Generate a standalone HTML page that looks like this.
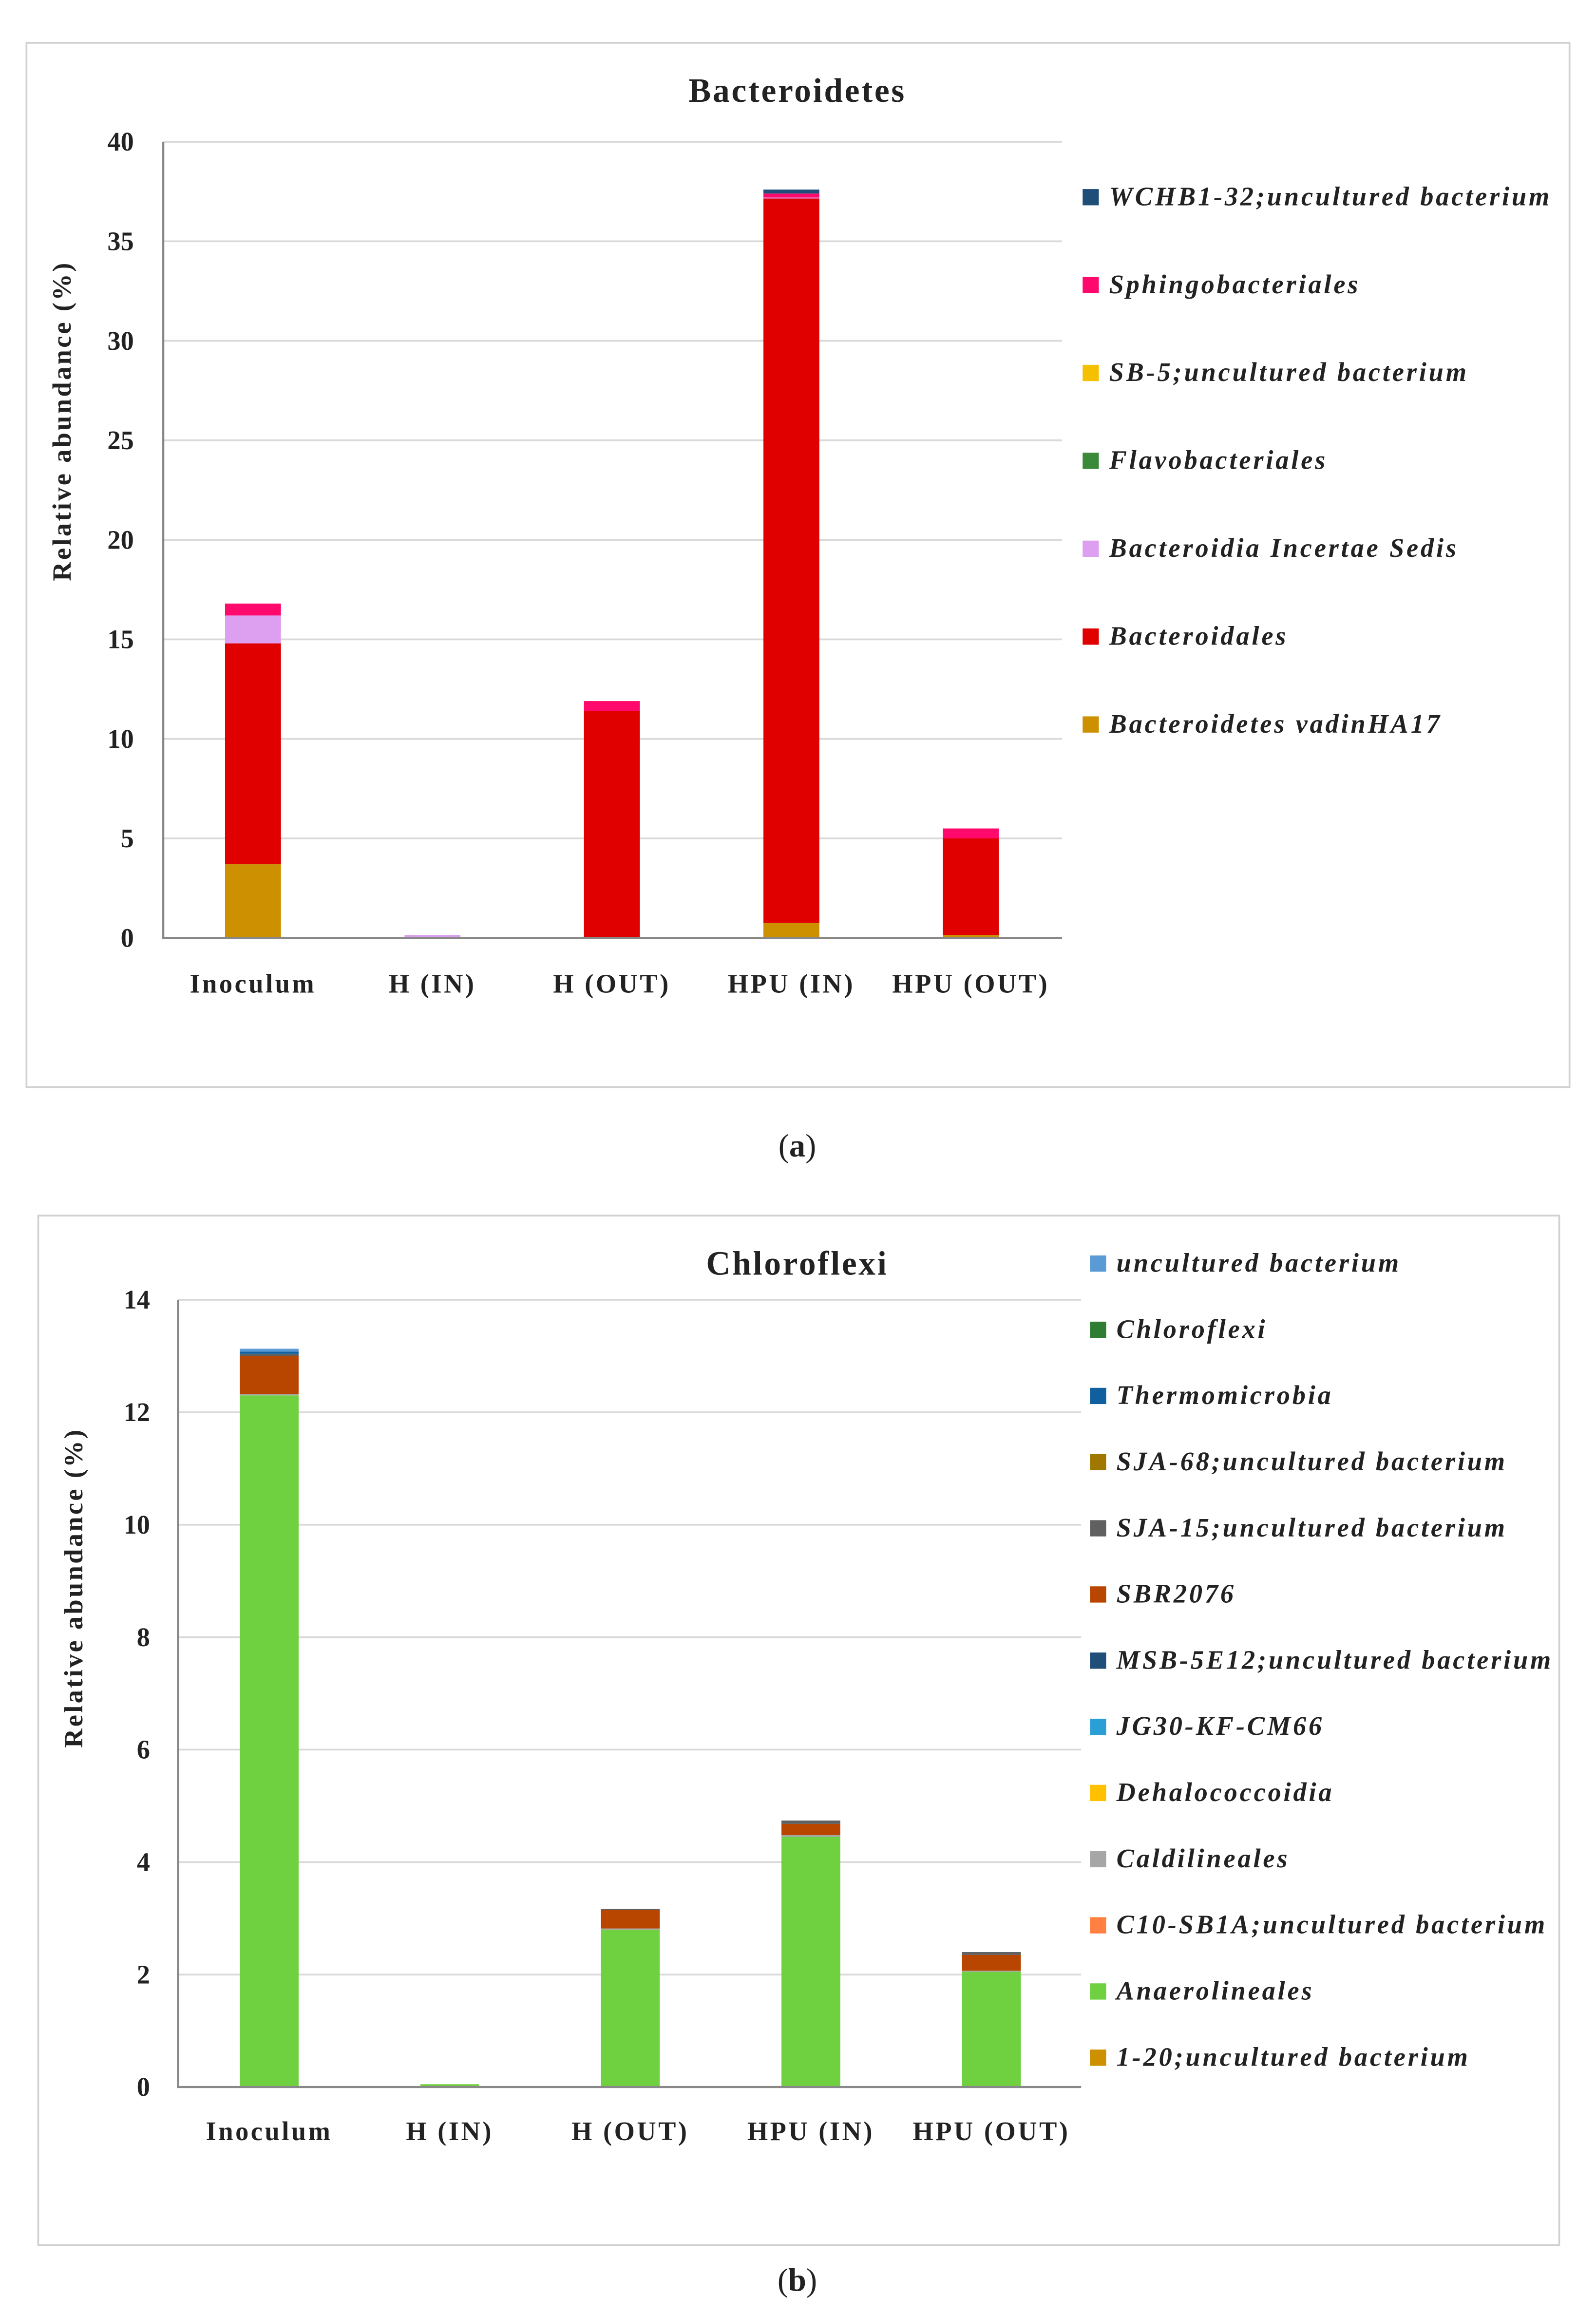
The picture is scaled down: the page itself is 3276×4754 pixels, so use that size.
<!DOCTYPE html>
<html><head><meta charset="utf-8"><style>
html,body{margin:0;padding:0;background:#fff}
svg{display:block}
text{font-family:"Liberation Serif",serif;fill:#222}
</style></head><body>
<svg id="root" width="3276" height="4754" viewBox="0 0 1085 1568" preserveAspectRatio="none" xmlns="http://www.w3.org/2000/svg">
<rect x="18" y="29" width="1049" height="707" fill="#fff" stroke="#d0d0d0" stroke-width="1.2"/>
<rect x="26" y="823" width="1034" height="697" fill="#fff" stroke="#d0d0d0" stroke-width="1.2"/>
<g id="ga"></g>
<g id="gb"></g>
<text x="542" y="783" text-anchor="middle" font-size="22">(<tspan font-weight="bold">a</tspan>)</text>
<text x="542" y="1551" text-anchor="middle" font-size="22">(<tspan font-weight="bold">b</tspan>)</text>
</svg>
<script>
const categories = ["Inoculum","H (IN)","H (OUT)","HPU (IN)","HPU (OUT)"];
// Chart A
const aSeries = ["Bacteroidetes vadinHA17","Bacteroidales","Bacteroidia Incertae Sedis","Flavobacteriales","SB-5;uncultured bacterium","Sphingobacteriales","WCHB1-32;uncultured bacterium"];
const aColors = ["#cc9000","#e00000","#dd9ff0","#3a8a3a","#f5c000","#ff0a6c","#1f4e79"];
const aVadin = [3.7,0,0,0.75,0.15];
const aBacteroidales = [11.1,0,11.4,36.4,4.85];
const aIncertae = [1.4,0.15,0,0.05,0];
const aFlavo = [0,0,0,0,0];
const aSB5 = [0,0,0,0,0];
const aSphingo = [0.6,0,0.5,0.2,0.5];
const aWCHB = [0,0,0,0.2,0];
const aTicks = [0,5,10,15,20,25,30,35,40];
// Chart B
const bSeries = ["1-20;uncultured bacterium","Anaerolineales","C10-SB1A;uncultured bacterium","Caldilineales","Dehalococcoidia","JG30-KF-CM66","MSB-5E12;uncultured bacterium","SBR2076","SJA-15;uncultured bacterium","SJA-68;uncultured bacterium","Thermomicrobia","Chloroflexi","uncultured bacterium"];
const bColors = ["#cc9000","#6fd040","#ff8040","#a6a6a6","#ffc000","#2a9fd6","#1f4e79","#b84600","#606060","#a07800","#1060a0","#2e7d32","#5b9bd5"];
const b120 = [0,0,0,0,0];
const bAnaero = [12.3,0.05,2.8,4.45,2.05];
const bC10 = [0,0,0,0,0];
const bCaldi = [0.02,0,0.02,0.03,0.02];
const bDehalo = [0,0,0,0,0];
const bJG30 = [0,0,0,0,0];
const bMSB = [0,0,0,0,0];
const bSBR = [0.68,0,0.33,0.2,0.28];
const bSJA15 = [0.04,0,0.02,0.06,0.05];
const bSJA68 = [0,0,0,0,0];
const bThermo = [0.04,0,0,0,0];
const bChloro = [0,0,0,0,0];
const bUncult = [0.05,0,0,0,0];
const bTicks = [0,2,4,6,8,10,12,14];

const NS="http://www.w3.org/2000/svg";
function mk(parent,tag,attrs,txt){const e=document.createElementNS(NS,tag);for(const k in attrs)e.setAttribute(k,attrs[k]);if(txt!==undefined)e.textContent=txt;parent.appendChild(e);return e;}

function drawChart(g,cfg){
  const {x0,x1,y0,y1,max,ticks,centers,bw,series,colors,data,title,titleX,titleY,legend,ylabelX,ylabelY,catY,tickX} = cfg;
  const ys=v=>y0-(v/max)*(y0-y1);
  const xs=i=>centers[0]+i*(centers[1]-centers[0]);
  ticks.forEach(t=>{
    if(t>0){const l=mk(g,'line',{x1:x0,x2:x1,y1:ys(t),y2:ys(t),stroke:'#d9d9d9','stroke-width':1.2});
    
    }
    const tx=mk(g,'text',{x:tickX,y:ys(t)+6,'text-anchor':'end','font-size':18,'font-weight':'bold'},t);
    
    
  });
  categories.forEach((c,i)=>{
    let acc=0;
    data.forEach((arr,s)=>{
      const v=arr[i]; if(!v) return;
      const r=mk(g,'rect',{x:xs(i)-bw/2,y:ys(acc+v),width:bw,height:ys(acc)-ys(acc+v),fill:colors[s]});
      
      
      acc+=v;
    });
    const ct=mk(g,'text',{x:xs(i),y:catY,'text-anchor':'middle','font-size':18,'font-weight':'bold','letter-spacing':1.5},c);
    
    
  });
  const ax=mk(g,'polyline',{points:`${x0},${y1} ${x0},${y0} ${x1},${y0}`,fill:'none',stroke:'#888','stroke-width':1.4});
  
  
  const tt=mk(g,'text',{x:titleX,y:titleY,'text-anchor':'middle','font-size':23,'font-weight':'bold','letter-spacing':1.2},title);
  
  
  const yl=mk(g,'text',{x:0,y:0,'text-anchor':'middle','font-size':18,'font-weight':'bold','letter-spacing':1.4,transform:`translate(${ylabelX},${ylabelY}) rotate(-90)`},'Relative abundance (%)');
  
  
  const n=series.length;
  for(let k=0;k<n;k++){
    const s=n-1-k; const y=legend.y+k*legend.dy;
    const sw=mk(g,'rect',{x:legend.x,y:y-11,width:11,height:11,fill:colors[s]});
    
    
    const lt=mk(g,'text',{x:legend.x+18,y:y,'font-size':18,'font-weight':'bold','font-style':'italic','letter-spacing':1.6},series[s]);
    
    
  }
}
drawChart(document.getElementById('ga'),{x0:111,x1:722,y0:635,y1:96,max:40,ticks:aTicks,centers:[172,294],bw:38,
  series:aSeries,colors:aColors,data:[aVadin,aBacteroidales,aIncertae,aFlavo,aSB5,aSphingo,aWCHB],
  title:'Bacteroidetes',titleX:542,titleY:69,legend:{x:736,y:139,dy:59.5},ylabelX:48,ylabelY:285,catY:672,tickX:91});
drawChart(document.getElementById('gb'),{x0:121,x1:735,y0:1413,y1:880,max:14,ticks:bTicks,centers:[183,305.75],bw:40,
  series:bSeries,colors:bColors,data:[b120,bAnaero,bC10,bCaldi,bDehalo,bJG30,bMSB,bSBR,bSJA15,bSJA68,bThermo,bChloro,bUncult],
  title:'Chloroflexi',titleX:542,titleY:863,legend:{x:741,y:861,dy:44.8},ylabelX:56,ylabelY:1075,catY:1449,tickX:102});
</script>
</body></html>
